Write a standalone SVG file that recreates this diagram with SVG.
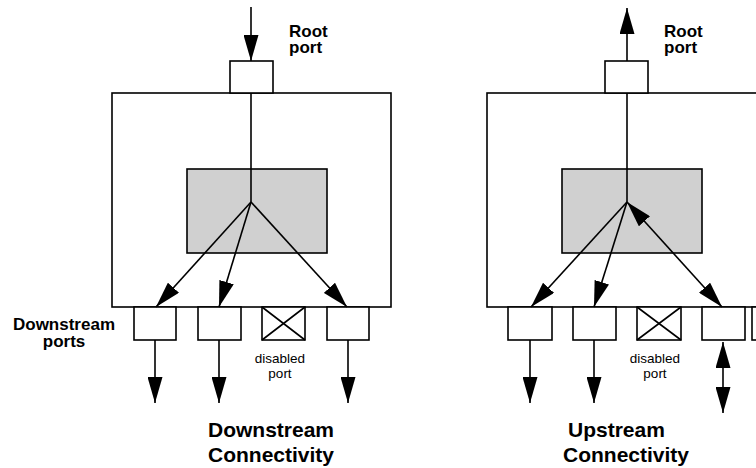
<svg xmlns="http://www.w3.org/2000/svg" width="756" height="468" viewBox="0 0 756 468">
<style>
.box{fill:#fff;stroke:#000;stroke-width:1.6}
.gray{fill:#d0d0d0;stroke:#000;stroke-width:1.6}
.ln{fill:none;stroke:#000;stroke-width:1.6}
.lbl{font-family:"Liberation Sans",Arial,sans-serif;font-weight:bold;font-size:17px;fill:#000}
.cap{font-family:"Liberation Sans",Arial,sans-serif;font-weight:bold;font-size:21px;fill:#000}
.sm{font-family:"Liberation Sans",Arial,sans-serif;font-size:13.5px;fill:#000;text-anchor:middle}
</style>
<defs>
<marker id="ah" markerUnits="userSpaceOnUse" markerWidth="26" markerHeight="15" refX="26" refY="7.5" orient="auto-start-reverse">
<path d="M0,0 L26,7.5 L0,15 z" fill="#000"/>
</marker>
</defs>
<rect width="756" height="468" fill="#fff"/>

<g id="left-switch"><rect class="box" x="112" y="93" width="279" height="214"/></g>
<g id="left-core"><rect class="gray" x="187" y="169" width="140" height="84"/></g>
<g id="left-root-port"><rect class="box" x="230" y="61" width="43" height="32"/></g>
<g id="left-port1"><rect class="box" x="134" y="307" width="42" height="33"/></g>
<g id="left-port2"><rect class="box" x="198" y="307" width="43" height="33"/></g>
<g id="left-port3"><rect class="box" x="262" y="307" width="43" height="33"/><path class="ln" d="M262,307 L305,340 M305,307 L262,340"/></g>
<g id="left-port4"><rect class="box" x="327" y="307" width="42" height="33"/></g>

<g id="right-switch"><rect class="box" x="487" y="93" width="279" height="214"/></g>
<g id="right-core"><rect class="gray" x="562" y="169" width="140" height="84"/></g>
<g id="right-root-port"><rect class="box" x="605" y="61" width="43" height="32"/></g>
<g id="right-port1"><rect class="box" x="508" y="307" width="44" height="33"/></g>
<g id="right-port2"><rect class="box" x="573" y="307" width="43" height="33"/></g>
<g id="right-port3"><rect class="box" x="637" y="307" width="44" height="33"/><path class="ln" d="M637,307 L681,340 M681,307 L637,340"/></g>
<g id="right-port4"><rect class="box" x="702" y="307" width="43" height="33"/></g>
<g id="right-port5"><rect class="box" x="752" y="307" width="43" height="33"/></g>

<g id="connectors">
<path class="ln" d="M251,7 L251,61" marker-end="url(#ah)"/>
<path class="ln" d="M251,93 L251,202"/>
<path class="ln" d="M251,202 L156,307" marker-end="url(#ah)"/>
<path class="ln" d="M251,202 L219,307" marker-end="url(#ah)"/>
<path class="ln" d="M251,202 L347,307" marker-end="url(#ah)"/>
<path class="ln" d="M155,340 L155,403" marker-end="url(#ah)"/>
<path class="ln" d="M219,340 L219,403" marker-end="url(#ah)"/>
<path class="ln" d="M348,340 L348,403" marker-end="url(#ah)"/>

<path class="ln" d="M627,61 L627,8" marker-end="url(#ah)"/>
<path class="ln" d="M627,93 L627,202"/>
<path class="ln" d="M627,202 L531,307" marker-end="url(#ah)"/>
<path class="ln" d="M627,202 L594,307" marker-end="url(#ah)"/>
<path class="ln" d="M627,202 L722,307" marker-start="url(#ah)" marker-end="url(#ah)"/>
<path class="ln" d="M530,340 L530,403" marker-end="url(#ah)"/>
<path class="ln" d="M594,340 L594,403" marker-end="url(#ah)"/>
<path class="ln" d="M723,342 L723,413" marker-start="url(#ah)" marker-end="url(#ah)"/>
</g>

<g id="labels">
<text class="lbl" x="289" y="37">Root</text>
<text class="lbl" x="289" y="53">port</text>
<text class="lbl" x="664" y="37">Root</text>
<text class="lbl" x="664" y="53">port</text>
<text class="lbl" x="64" y="330" text-anchor="middle">Downstream</text>
<text class="lbl" x="64" y="347" text-anchor="middle">ports</text>
<text class="sm" x="280" y="363">disabled</text>
<text class="sm" x="280" y="378">port</text>
<text class="sm" x="655" y="363">disabled</text>
<text class="sm" x="655" y="378">port</text>
<text class="cap" x="208" y="437">Downstream</text>
<text class="cap" x="208" y="462">Connectivity</text>
<text class="cap" x="568" y="437">Upstream</text>
<text class="cap" x="563" y="462">Connectivity</text>
</g>
</svg>
